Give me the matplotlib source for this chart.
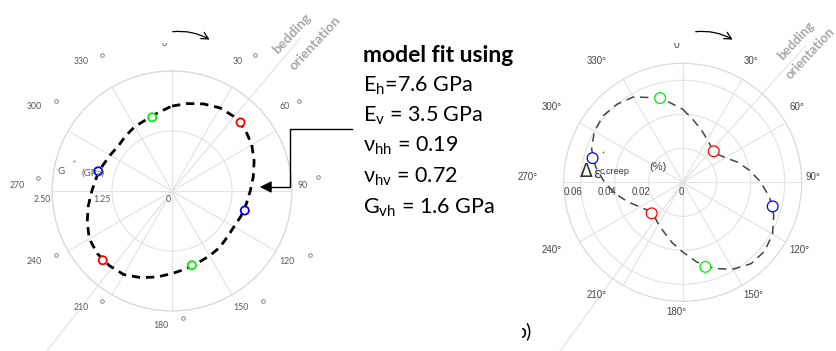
import numpy as np
import matplotlib
matplotlib.use("Agg")
import matplotlib.pyplot as plt
from matplotlib.patches import FancyArrowPatch
from matplotlib.lines import Line2D
from matplotlib.transforms import offset_copy, Bbox

W, H, DPI = 837, 351, 100

# ---------------- data ----------------
# loading directions of the tested samples (deg, clockwise from north)
sample_angles = [345, 45, 105, 165, 225, 285]
sample_colors = ["#00ee00", "#ff0000", "#0000ff", "#00ee00", "#ff0000", "#0000ff"]

# shear modulus G (GPa) and creep strain increment (%) per sample
shear_modulus = [1.59, 2.02, 1.57, 1.60, 2.04, 1.59]
creep_strain = [0.0513, 0.0258, 0.0548, 0.0515, 0.0258, 0.0549]

# model curves, sampled every 10 deg
fit_angles = list(range(0, 360, 10))
shear_fit = [1.77, 1.85, 1.93, 2.00, 2.02, 1.99, 1.92, 1.82, 1.72, 1.63,
             1.57, 1.53, 1.49, 1.50, 1.54, 1.56, 1.59, 1.65, 1.72, 1.82,
             1.92, 2.01, 2.03, 2.03, 1.99, 1.88, 1.77, 1.67, 1.60, 1.54,
             1.49, 1.46, 1.50, 1.55, 1.58, 1.66]
creep_fit = [0.043, 0.037, 0.0325, 0.029, 0.0265, 0.026, 0.029, 0.0345, 0.040, 0.046,
             0.052, 0.057, 0.061, 0.063, 0.0625, 0.059, 0.054, 0.0476, 0.041, 0.036,
             0.0315, 0.0285, 0.026, 0.026, 0.029, 0.034, 0.040, 0.046, 0.052, 0.057,
             0.060, 0.061, 0.060, 0.058, 0.053, 0.048]

angle_ticks = list(range(0, 360, 30))
shear_rings = [1.25, 2.50]
shear_ring_labels = ["1.25", "2.50"]
creep_rings = [0.02, 0.04, 0.06]
creep_ring_labels = ["0.02", "0.04", "0.06"]
shear_rmax = 2.5
creep_rmax = 0.07

model_lines = [
    ("E", "h", "=7.6 GPa"),
    ("E", "v", " = 3.5 GPa"),
    ("ν", "hh", " = 0.19"),
    ("ν", "hv", " = 0.72"),
    ("G", "vh", " = 1.6 GPa"),
]

# ---------------- figure ----------------
fig = plt.figure(figsize=(W / DPI, H / DPI), dpi=DPI)
fig.patch.set_facecolor("white")

SANS = ["Lato", "DejaVu Sans"]
ARIAL = ["Liberation Sans", "DejaVu Sans"]


def fx(x):
    return x / W


def fy(y):
    return 1 - y / H


def make_polar(cx, cy, rad, rmax, rings):
    ax = fig.add_axes([(cx - rad) / W, (H - cy - rad) / H, 2 * rad / W, 2 * rad / H],
                      projection="polar")
    ax.set_theta_zero_location("N")
    ax.set_theta_direction(-1)
    ax.set_ylim(0, rmax)
    ax.set_xticks(np.radians(angle_ticks))
    ax.set_xticklabels([])
    ax.set_yticks(rings)
    ax.set_yticklabels([])
    ax.tick_params(length=0)
    ax.grid(True, color="#e2e2e2", lw=0.8)
    ax.spines["polar"].set_color("#d6d6d6")
    ax.spines["polar"].set_linewidth(0.8)
    ax.set_facecolor("none")
    return ax


def clipped_text(x, y, s, box, **kw):
    t = fig.text(fx(x), fy(y), s, **kw)
    x0, y0, x1, y1 = box
    t.set_clip_box(Bbox.from_extents(x0, H - y1, x1, H - y0))
    t.set_clip_on(True)
    return t


# ---------- left: shear modulus ----------
axL = make_polar(172, 191, 120, shear_rmax, shear_rings)
thL = np.radians(fit_angles + [fit_angles[0]])
axL.plot(np.radians([40, 40]), [0, 4.15], color="#e6e6e6", lw=1.0, clip_on=False, zorder=1)
axL.plot(np.radians([218, 218]), [0, 4.3], color="#e6e6e6", lw=1.0, clip_on=False, zorder=1)
axL.plot(thL, shear_fit + [shear_fit[0]], color="black", lw=2.0, dashes=(3.0, 2.1), zorder=3)
axL.scatter(np.radians(sample_angles), shear_modulus, s=34, facecolors="white",
            edgecolors=sample_colors, linewidths=1.3, zorder=5)

off = offset_copy(axL.transData, fig=fig, x=-1, y=-8, units="dots")
for r, lab in zip([0] + shear_rings, ["0"] + shear_ring_labels):
    axL.text(np.radians(270), r, lab, transform=off, ha="right", va="center",
             fontsize=6.3, color="#595959", family=SANS, clip_on=False)

left_lab_pos = {30: (238, 61), 60: (285, 107), 90: (303, 185), 120: (287, 261),
                150: (241, 307), 180: (161, 325), 210: (81, 307), 240: (34, 261),
                270: (17, 185), 300: (34, 107), 330: (81, 61)}
left_deg_pos = {30: (255, 55), 60: (299, 101), 90: (318, 177), 120: (310, 255),
                150: (263, 301), 180: (183, 318), 210: (102, 301), 240: (56, 255),
                270: (38, 178), 300: (56, 101), 330: (102, 55)}
for a in angle_ticks[1:]:
    x, y = left_lab_pos[a]
    fig.text(fx(x), fy(y), str(a), ha="center", va="center", fontsize=6.3,
             color="#595959", family=SANS)
    dx, dy = left_deg_pos[a]
    fig.add_artist(Line2D([fx(dx)], [fy(dy)], marker="o", ms=2.6, mfc="none",
                          mec="#777777", mew=0.6, transform=fig.transFigure))
clipped_text(165, 44, "0", (150, 42.5, 180, 60), ha="center", va="center",
             fontsize=6.8, color="#595959", family=SANS)

fig.text(fx(61), fy(172), "G", ha="center", va="center", fontsize=7, color="#595959", family=SANS)
fig.text(fx(93), fy(173), "(GPa)", ha="center", va="center", fontsize=7, color="#595959",
         family=SANS, zorder=0)
fig.add_artist(Line2D([fx(74)], [fy(161)], marker="o", ms=1.3, mfc="#777777", mec="none",
                      transform=fig.transFigure))

# ---------- right: creep strain ----------
axR = make_polar(682.7, 182.3, 119, creep_rmax, creep_rings)
thR = np.radians(fit_angles + [fit_angles[0]])
axR.plot(np.radians([42, 42]), [0, 0.108], color="#e6e6e6", lw=1.0, clip_on=False, zorder=1)
axR.plot(np.radians([216, 216]), [0, 0.124], color="#e6e6e6", lw=1.0, clip_on=False, zorder=1)
axR.plot(thR, creep_fit + [creep_fit[0]], color="#444444", lw=1.1, dashes=(5.5, 3.8), zorder=3)
axR.scatter(np.radians(sample_angles), creep_strain, s=60, facecolors="white",
            edgecolors=sample_colors, linewidths=0.9, zorder=5)

offR = offset_copy(axR.transData, fig=fig, x=1.5, y=-10, units="dots")
for r, lab in zip([0] + creep_rings, ["0"] + creep_ring_labels):
    axR.text(np.radians(270), r, lab, transform=offR, ha="right", va="center",
             fontsize=7, color="#444444", family=ARIAL, clip_on=False)

right_lab_pos = {30: (751, 61), 60: (797, 107), 90: (813, 177), 120: (799, 250),
                 150: (753, 295), 180: (676, 312), 210: (597, 295), 240: (552, 250),
                 270: (528, 177), 300: (552, 107), 330: (597, 61)}
for a in angle_ticks[1:]:
    x, y = right_lab_pos[a]
    fig.text(fx(x), fy(y), f"{a}°", ha="center", va="center", fontsize=7,
             color="#444444", family=ARIAL)
clipped_text(677, 45, "0", (660, 43, 695, 60), ha="center", va="center",
             fontsize=7.5, color="#444444", family=ARIAL)

fig.text(fx(586), fy(171), "Δ", ha="center", va="center", fontsize=13.5, color="#333333",
         family=["DejaVu Sans"])
fig.text(fx(597), fy(174), "ε", ha="center", va="center", fontsize=10, color="#333333",
         family=["DejaVu Sans"])
fig.text(fx(615), fy(171), "c,creep", ha="center", va="center", fontsize=6.6,
         color="#333333", family=ARIAL)
fig.text(fx(658), fy(167), "(%)", ha="center", va="center", fontsize=8, color="#444444",
         family=ARIAL)
fig.add_artist(Line2D([fx(603)], [fy(152)], marker="o", ms=1.3, mfc="#777777", mec="none",
                      transform=fig.transFigure))

# ---------- bedding labels ----------
for (bx, by), (ox, oy), fs in [((292, 34), (315, 43), 10), ((796, 41), (810, 53), 9.5)]:
    fig.text(fx(bx), fy(by), "bedding", rotation=47, ha="center", va="center",
             fontsize=fs, fontweight="bold", color="#a6a6a6", family=SANS)
    fig.text(fx(ox), fy(oy), "orientation", rotation=47, ha="center", va="center",
             fontsize=fs, fontweight="bold", color="#a6a6a6", family=SANS)

# ---------- rotation arrows ----------
for x0 in (170, 693):
    fig.add_artist(FancyArrowPatch((fx(x0), fy(32)), (fx(x0 + 42), fy(41)),
                                   transform=fig.transFigure,
                                   connectionstyle="arc3,rad=-0.18",
                                   arrowstyle="->,head_length=5,head_width=2.6",
                                   color="black", lw=0.9))

# ---------- model parameter block ----------
fig.text(fx(363), fy(55), "model fit using", ha="left", va="center", fontsize=16.5,
         fontweight="bold", color="black", family=SANS)
line_y = [86, 116, 146, 177, 208]
for (sym, sub, rest), y in zip(model_lines, line_y):
    fig.text(fx(363), fy(y),
             sym + r"$_{\mathregular{" + sub + r"}}$" + rest,
             ha="left", va="center", fontsize=15.5, color="black", family=SANS)

# connector from the parameter block to the curve
fig.add_artist(Line2D([fx(352), fx(290), fx(290), fx(268)],
                      [fy(129), fy(129), fy(187), fy(187)],
                      color="black", lw=1.0, transform=fig.transFigure))
fig.add_artist(FancyArrowPatch((fx(272), fy(187)), (fx(257), fy(187)),
                               transform=fig.transFigure,
                               arrowstyle="-|>,head_length=7,head_width=3.5",
                               color="black", lw=1.0))

clipped_text(516, 331, "b)", (522, 312, 560, 348), ha="left", va="center", fontsize=14,
             color="black", family=SANS)

fig.savefig("out.png", dpi=DPI, facecolor="white")
